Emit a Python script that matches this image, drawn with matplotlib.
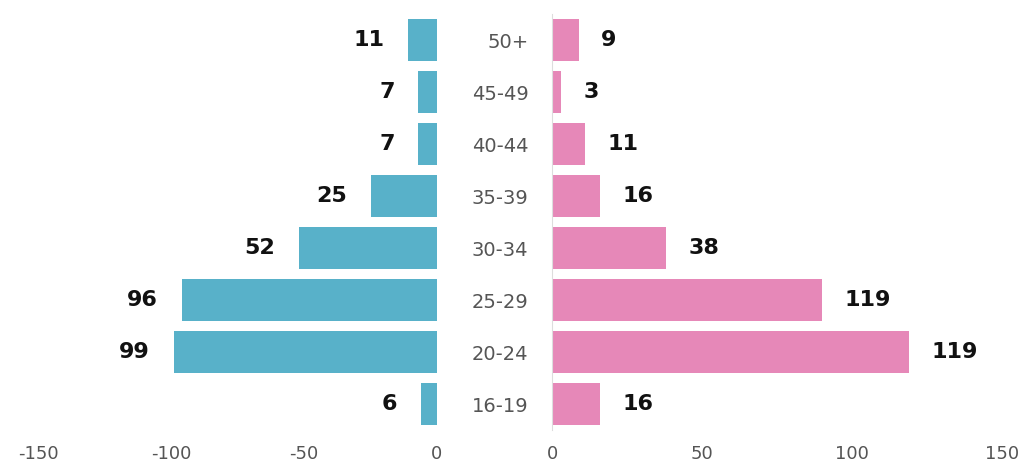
import matplotlib.pyplot as plt

plt.rcParams['font.family'] = ['DejaVu Sans']
plt.rcParams['axes.unicode_minus'] = False

# Datos (de arriba hacia abajo)
grupos = ['50+', '45-49', '40-44', '35-39', '30-34', '25-29', '20-24', '16-19']
hombres = [11, 7, 7, 25, 52, 96, 99, 6]
mujeres = [9, 3, 11, 16, 38, 90, 119, 16]
etiquetas_mujeres = [9, 3, 11, 16, 38, 119, 119, 16]
ticks_izq = [-150, -100, -50, 0]
ticks_der = [0, 50, 100, 150]

color_h = '#58b1c9'
color_m = '#e688b8'
gris = '#555555'

W, H = 1028, 463
fig = plt.figure(figsize=(W / 100, H / 100), dpi=100)

bottom = 1 - 430 / H
height = 416 / H
ax_l = fig.add_axes([38 / W, bottom, (437 - 38) / W, height])
ax_r = fig.add_axes([552 / W, bottom, (1002 - 552) / W, height])

y = list(range(len(grupos)))

ax_l.barh(y, [-v for v in hombres], height=0.8, color=color_h)
ax_r.barh(y, mujeres, height=0.8, color=color_m)

for yi, v in zip(y, hombres):
    ax_l.annotate(str(v), xy=(-v, yi), xytext=(-17, 0), textcoords='offset points',
                  ha='right', va='center', fontsize=16, fontweight='bold', color='#111111')
for yi, v, lab in zip(y, mujeres, etiquetas_mujeres):
    ax_r.annotate(str(lab), xy=(v, yi), xytext=(16, 0), textcoords='offset points',
                  ha='left', va='center', fontsize=16, fontweight='bold', color='#111111')

for ax in (ax_l, ax_r):
    ax.set_ylim(len(grupos) - 0.5, -0.5)
    for s in ax.spines.values():
        s.set_visible(False)
    ax.tick_params(axis='x', length=0, pad=11, labelsize=13, labelcolor=gris)

ax_l.set_xlim(-150, 0)
ax_l.set_xticks(ticks_izq)
ax_l.set_yticks([])

ax_r.set_xlim(0, 150)
ax_r.set_xticks(ticks_der)
ax_r.set_yticks(y)
ax_r.set_yticklabels(grupos)
ax_r.tick_params(axis='y', length=0, pad=17, labelsize=14, labelcolor=gris)
ax_r.spines['left'].set_visible(True)
ax_r.spines['left'].set_color('#dddddd')

fig.savefig('out.png', dpi=100)
